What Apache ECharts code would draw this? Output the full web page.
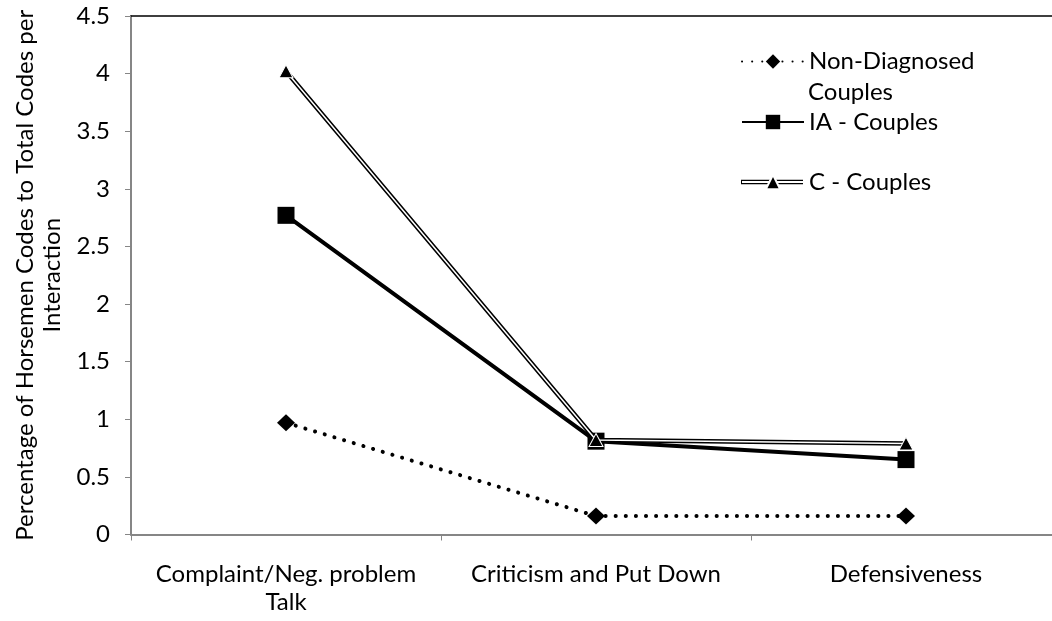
<!DOCTYPE html>
<html>
<head>
<meta charset="utf-8">
<script src="https://cdn.jsdelivr.net/npm/echarts@6/dist/echarts.min.js"></script>
<style>
html,body{margin:0;padding:0;background:#fff;}
#chart{width:1052px;height:621px;}
</style>
</head>
<body>
<div id="chart"></div>
<script>
const categories = ['Complaint/Neg. problem\nTalk', 'Criticism and Put Down', 'Defensiveness'];
const nonDiagnosed = [0.97, 0.16, 0.16];
const iaCouples = [2.77, 0.81, 0.65];
const cCouples = [4.02, 0.82, 0.79];
const yTicks = { min: 0, max: 4.5, interval: 0.5 };
const yAxisTitle = 'Percentage of Horsemen Codes to Total Codes per\nInteraction';
const seriesNames = ['Non-Diagnosed', 'IA - Couples', 'C - Couples'];
const legendSecondLine = 'Couples';

const FONT = 'Lato';
const FS = 24;
const GRAY = '#868686';

const chart = echarts.init(document.getElementById('chart'), null, { renderer: 'canvas' });

const legendCommon = {
  orient: 'vertical',
  left: 736,
  padding: 5,
  itemWidth: 62,
  itemHeight: 18,
  textStyle: { fontFamily: FONT, fontSize: FS, color: '#000' },
  selectedMode: false
};

const option = {
  backgroundColor: '#fff',
  animation: false,
  grid: { left: 131, top: 16, width: 930, height: 518.5, containLabel: false, outerBoundsMode: 'none' },
  legend: [
    Object.assign({}, legendCommon, { top: 44.5, data: [seriesNames[0]] }),
    Object.assign({}, legendCommon, { top: 105, data: [seriesNames[1]] }),
    Object.assign({}, legendCommon, { top: 165, data: [seriesNames[2]] })
  ],
  graphic: [
    { type: 'rect', z: 0, shape: { x: 741, y: 179.7, width: 62, height: 4.6 }, style: { fill: '#000' } },
    { type: 'text', z: 5, x: 808, y: 92, style: { text: legendSecondLine, font: FS + 'px ' + FONT, fill: '#000', verticalAlign: 'middle', align: 'left' } }
  ],
  xAxis: [
    {
      type: 'category',
      data: categories,
      position: 'bottom',
      boundaryGap: true,
      axisLine: { lineStyle: { color: GRAY, width: 2 } },
      axisTick: { show: true, length: 6, lineStyle: { color: GRAY, width: 1 } },
      axisLabel: { fontFamily: FONT, fontSize: FS, color: '#000', margin: 26, lineHeight: 28, interval: 0 },
      splitLine: { show: false }
    },
    {
      type: 'category',
      data: categories,
      position: 'top',
      axisLine: { lineStyle: { color: '#000', width: 1.5 } },
      axisTick: { show: false },
      axisLabel: { show: false },
      splitLine: { show: false }
    }
  ],
  yAxis: {
    type: 'value',
    min: yTicks.min,
    max: yTicks.max,
    interval: yTicks.interval,
    name: yAxisTitle,
    nameLocation: 'middle',
    nameRotate: 90,
    nameGap: 64,
    nameTextStyle: { fontFamily: FONT, fontSize: FS, color: '#000', lineHeight: 27 },
    axisLine: { show: true, lineStyle: { color: GRAY, width: 2 } },
    axisTick: { show: true, length: 6, lineStyle: { color: GRAY, width: 1 } },
    axisLabel: { fontFamily: FONT, fontSize: FS, color: '#000', margin: 21 },
    splitLine: { show: false }
  },
  series: [
    {
      name: seriesNames[0],
      type: 'line',
      data: nonDiagnosed,
      z: 2,
      symbol: 'diamond',
      symbolSize: [18, 17],
      itemStyle: { color: '#000' },
      lineStyle: { color: '#000', width: 4, type: [0.1, 10], cap: 'round' }
    },
    {
      name: seriesNames[1],
      type: 'line',
      data: iaCouples,
      z: 3,
      symbol: 'rect',
      symbolSize: 17,
      itemStyle: { color: '#000' },
      lineStyle: { color: '#000', width: 4 }
    },
    {
      name: 'C-outline',
      type: 'line',
      data: cCouples,
      z: 4,
      symbol: 'none',
      lineStyle: { color: '#000', width: 4.6 },
      silent: true
    },
    {
      name: seriesNames[2],
      type: 'line',
      data: cCouples,
      z: 5,
      symbol: 'triangle',
      symbolSize: [14, 13],
      itemStyle: { color: '#000', borderColor: '#fff', borderWidth: 1 },
      lineStyle: { color: '#fff', width: 1.5 }
    }
  ]
};

chart.setOption(option);
</script>
</body>
</html>
